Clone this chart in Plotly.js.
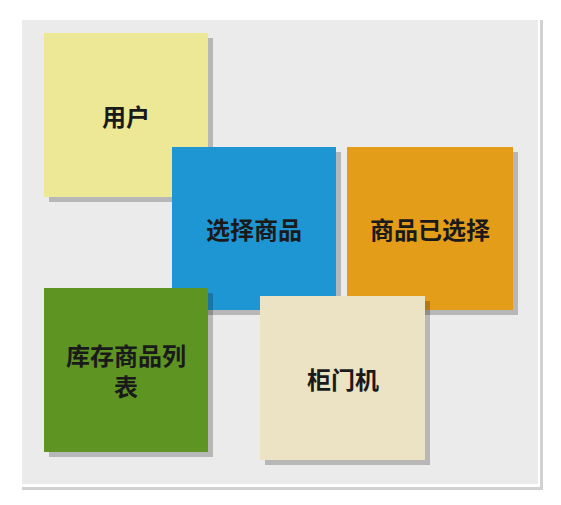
<!DOCTYPE html>
<html>
<head>
<meta charset="utf-8">
<script src="https://cdn.plot.ly/plotly-3.0.1.min.js"></script>
<style>body{margin:0;background:#fff}#chart{width:561px;height:505px}</style>
</head>
<body>
<div id="chart"></div>
<script>
// sticky notes: label, left, top, size (in pixel-like units), colour
var labels = ["用户", "选择商品", "商品已选择", "库存商品列<br>表", "柜门机"];
var lefts = [44, 172, 347, 44, 260];
var tops = [33, 147, 147, 288, 296];
var widths = [164, 164, 166, 164, 165];
var heights = [164, 163, 163, 164, 164];
var colors = ["#ede896", "#1f96d4", "#e49d19", "#5e9421", "#ece3c4"];

var shapes = [];
// card shadow, card, grey panel
shapes.push({type: "rect", xref: "x", yref: "y", x0: 22, x1: 543, y0: 20, y1: 490,
  fillcolor: "rgba(0,0,0,0.18)", line: {width: 0}});
shapes.push({type: "rect", xref: "x", yref: "y", x0: 19, x1: 540, y0: 17, y1: 487,
  fillcolor: "#ffffff", line: {width: 0}});
shapes.push({type: "rect", xref: "x", yref: "y", x0: 22, x1: 538, y0: 20, y1: 484,
  fillcolor: "#ebebeb", line: {width: 0}});

var annotations = [];
for (var i = 0; i < labels.length; i++) {
  shapes.push({type: "rect", xref: "x", yref: "y",
    x0: lefts[i] + 5, x1: lefts[i] + widths[i] + 5,
    y0: tops[i] + 5, y1: tops[i] + heights[i] + 5,
    fillcolor: "rgba(0,0,0,0.22)", line: {width: 0}});
  shapes.push({type: "rect", xref: "x", yref: "y",
    x0: lefts[i], x1: lefts[i] + widths[i],
    y0: tops[i], y1: tops[i] + heights[i],
    fillcolor: colors[i], line: {width: 0}});
  annotations.push({x: lefts[i] + widths[i] / 2, y: tops[i] + heights[i] / 2,
    xref: "x", yref: "y", text: "<b>" + labels[i] + "</b>", showarrow: false,
    font: {family: "Noto Sans CJK SC", size: 24, color: "#1a1a1a"}});
}

Plotly.newPlot("chart", [], {
  width: 561, height: 505,
  margin: {l: 0, r: 0, t: 0, b: 0},
  paper_bgcolor: "#ffffff", plot_bgcolor: "#ffffff",
  xaxis: {range: [0, 561], visible: false, fixedrange: true},
  yaxis: {range: [505, 0], visible: false, fixedrange: true},
  shapes: shapes, annotations: annotations, showlegend: false
}, {displayModeBar: false, staticPlot: true});
</script>
</body>
</html>
